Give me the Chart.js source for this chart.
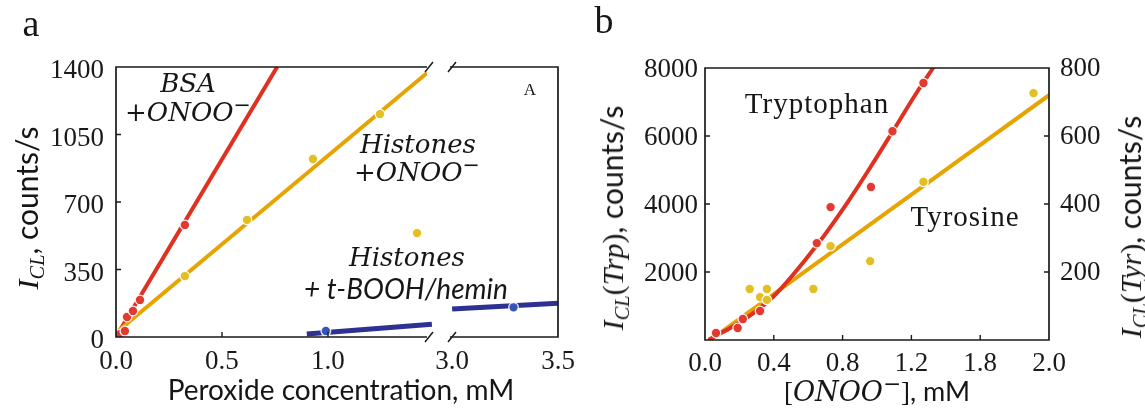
<!DOCTYPE html>
<html>
<head>
<meta charset="utf-8">
<title>Chemiluminescence intensity vs. oxidant concentration</title>
<script src="https://cdn.jsdelivr.net/npm/chart.js@4.4.1/dist/chart.umd.min.js"></script>
<style>
  html, body { margin: 0; padding: 0; background: #fff; }
  #fig { position: relative; width: 1145px; height: 408px; overflow: hidden; background: #fff; }
  #fig canvas { position: absolute; top: 0; }
  .lbl { position: absolute; white-space: nowrap; color: #161616; line-height: 1; transform: translate(-50%, -50%); }
  .rot { transform: translate(-50%, -50%) rotate(-90deg); }
  .serif { font-family: "Liberation Serif", serif; }
  .mi { font-family: "DejaVu Serif", serif; font-style: italic; }
  .li { font-family: "Liberation Serif", serif; font-style: italic; }
  .sans { font-family: "Lato", sans-serif; }
  .sansi { font-family: "Lato", sans-serif; font-style: italic; }
  sup.m { font-size: 0.8em; vertical-align: 0.45em; line-height: 0; }
  sub.s { font-size: 0.68em; vertical-align: -0.28em; line-height: 0; }
</style>
</head>
<body>
<div id="fig">
  <canvas id="a1" width="440" height="408" style="left:0px"></canvas>
  <canvas id="a2" width="180" height="408" style="left:420px"></canvas>
  <canvas id="b" width="555" height="408" style="left:590px"></canvas>

  <div class="lbl serif" style="left:31px;top:23px;font-size:38px">a</div>
  <div class="lbl serif" style="left:604px;top:20px;font-size:38px">b</div>

  <div class="lbl mi" style="left:188px;top:83px;font-size:26px">BSA</div>
  <div class="lbl mi" style="left:188px;top:112px;font-size:26px">+ONOO<sup class="m">−</sup></div>
  <div class="lbl mi" style="left:418px;top:144px;font-size:26px">Histones</div>
  <div class="lbl mi" style="left:417px;top:172px;font-size:26px">+ONOO<sup class="m">−</sup></div>
  <div class="lbl mi" style="left:407px;top:257px;font-size:26px">Histones</div>
  <div class="lbl sansi" style="left:406px;top:288px;font-size:28px">+ t-BOOH/hemin</div>
  <div class="lbl serif" style="left:530px;top:89px;font-size:17px">A</div>

  <div class="lbl serif" style="left:817px;top:103px;font-size:29px;letter-spacing:1px">Tryptophan</div>
  <div class="lbl serif" style="left:965px;top:216px;font-size:29px;letter-spacing:1px">Tyrosine</div>

  <div class="lbl rot" style="left:27px;top:208px;font-size:30px"><span class="li">I</span><sub class="s li">CL</sub><span class="sans">, counts/s</span></div>
  <div class="lbl sans" style="left:341px;top:389px;font-size:28px">Peroxide concentration, mM</div>

  <div class="lbl rot" style="left:612px;top:218px;font-size:30px"><span class="li">I</span><sub class="s li">CL</sub><span class="serif">(</span><span class="li">Trp</span><span class="serif">)</span><span class="sans">, counts/s</span></div>
  <div class="lbl rot" style="left:1130px;top:227px;font-size:30px"><span class="li">I</span><sub class="s li">CL</sub><span class="serif">(</span><span class="li">Tyr</span><span class="serif">)</span><span class="sans">, counts/s</span></div>
  <div class="lbl" style="left:877px;top:391px;font-size:27px"><span class="serif">[</span><span class="mi">ONOO<sup class="m">−</sup></span><span class="serif">]</span><span class="sans">, mM</span></div>
</div>

<script>
// ---- Panel a: CL intensity vs. peroxide concentration (mM) ----
const bsaX = [0.019, 0.042, 0.052, 0.080, 0.113, 0.325];
const bsaY = [16, 31, 104, 135, 192, 581];
const bsaFitX = [0, 0.76];
const bsaFitY = [0, 1400];

const histX = [0.325, 0.618, 0.929, 1.245, 1.42];
const histY = [316, 607, 923, 1156, 539];
const histFitX = [0.01, 1.467];
const histFitY = [31, 1369];

const heminX = [0.99, 3.29];
const heminY = [31, 154];
const heminFitLowX = [0.90, 1.49];
const heminFitLowY = [16, 66];
const heminFitHighX = [3.0, 3.5];
const heminFitHighY = [145, 175];

const aYTicks = [0, 350, 700, 1050, 1400];
const aYLabels = ['0', '350', '700', '1050', '1400'];
const aXTicksLow = [0, 0.5, 1.0];
const aXLabelsLow = ['0.0', '0.5', '1.0'];
const aXTicksHigh = [3.0, 3.5];
const aXLabelsHigh = ['3.0', '3.5'];

// ---- Panel b: CL intensity vs. [ONOO-] (mM) ----
const trpX = [0.064, 0.19, 0.22, 0.32, 0.65, 0.73, 0.965, 1.09, 1.27];
const trpY = [206, 353, 617, 853, 2850, 3910, 4500, 6140, 7560];
const trpFitX = [0.029, 0.215, 0.395, 0.651, 0.826, 0.959, 1.093, 1.233, 1.326];
const trpFitY = [29, 559, 1265, 2794, 4029, 5059, 6147, 7294, 8000];

const tyrX = [0.26, 0.32, 0.36, 0.36, 0.63, 0.73, 0.96, 1.27, 1.91];
const tyrY = [150, 126, 150, 118, 150, 276, 232, 465, 726];
const tyrFitX = [0.03, 2.0];
const tyrFitY = [0, 720];

const bXTicks = [0, 0.4, 0.8, 1.2, 1.6, 2.0];
const bXLabels = ['0.0', '0.4', '0.8', '1.2', '1.8', '2.0'];
const bLeftTicks = [2000, 4000, 6000, 8000];
const bLeftLabels = ['2000', '4000', '6000', '8000'];
const bRightTicks = [200, 400, 600, 800];
const bRightLabels = ['200', '400', '600', '800'];

// ---- styling ----
const RED = '#e0301f';
const RED_PT = '#e23a30';
const ORANGE = '#e7a300';
const YELLOW_PT = '#e2bf22';
const NAVY = '#2c3192';
const BLUE_PT = '#3556b8';
const INK = '#1a1a1a';
const tickFont = { family: '"Liberation Serif", serif', size: 27 };

const xy = (xs, ys) => xs.map((x, i) => ({ x, y: ys[i] }));

function pointSet(xs, ys, color, axis) {
  return Object.assign({
    data: xy(xs, ys), showLine: false, order: 0,
    pointRadius: 4.8, pointHoverRadius: 4.8,
    pointBackgroundColor: color, pointBorderColor: 'rgba(255,255,255,0.9)', pointBorderWidth: 1.3
  }, axis || {});
}
function lineSet(xs, ys, color, width, extra) {
  return Object.assign({
    data: xy(xs, ys), borderColor: color, borderWidth: width, pointRadius: 0,
    fill: false, order: 1, borderCapStyle: 'butt'
  }, extra || {});
}

// fixed box size so the plot frames line up across the canvases
function fixBox(prop, size) {
  return s => {
    s[prop] = size;
    s.paddingLeft = 0; s.paddingRight = 0; s.paddingTop = 0; s.paddingBottom = 0;
  };
}
const useTicks = vals => s => { s.ticks = vals.map(v => ({ value: v })); };

// frame, inward tick marks and axis-break marks
const framePlugin = {
  id: 'frame',
  afterDatasetsDraw(chart, args, o) {
    const { ctx, chartArea: a } = chart;
    ctx.save();
    ctx.strokeStyle = INK;
    ctx.lineWidth = 1.7;
    ctx.lineCap = 'butt';
    ctx.beginPath();
    const sides = o.sides || [];
    if (sides.includes('top')) { ctx.moveTo(a.left, a.top); ctx.lineTo(a.right, a.top); }
    if (sides.includes('bottom')) { ctx.moveTo(a.left, a.bottom); ctx.lineTo(a.right, a.bottom); }
    if (sides.includes('left')) { ctx.moveTo(a.left, a.top - 0.85); ctx.lineTo(a.left, a.bottom + 0.85); }
    if (sides.includes('right')) { ctx.moveTo(a.right, a.top - 0.85); ctx.lineTo(a.right, a.bottom + 0.85); }
    ctx.stroke();

    ctx.lineWidth = 1.4;
    ctx.beginPath();
    (o.ticks || []).forEach(t => {
      const sc = chart.scales[t.id];
      sc.ticks.forEach(tk => {
        const p = sc.getPixelForValue(tk.value);
        if (t.side === 'bottom') { if (p <= a.left + 2 || p >= a.right - 2) return; ctx.moveTo(p, a.bottom); ctx.lineTo(p, a.bottom - 5); }
        if (t.side === 'left') { if (p <= a.top + 2 || p >= a.bottom - 2) return; ctx.moveTo(a.left, p); ctx.lineTo(a.left + 5, p); }
        if (t.side === 'right') { if (p <= a.top + 2 || p >= a.bottom - 2) return; ctx.moveTo(a.right, p); ctx.lineTo(a.right - 5, p); }
      });
    });
    ctx.stroke();

    if (o.breakAt) {
      const x = o.breakAt === 'right' ? a.right + 2 : a.left + 2;
      ctx.lineWidth = 1.5;
      ctx.beginPath();
      [a.top, a.bottom].forEach(y => { ctx.moveTo(x - 4, y + 5); ctx.lineTo(x + 4, y - 5); });
      ctx.stroke();
    }
    ctx.restore();
  }
};

const common = {
  responsive: false, animation: false, events: [],
  plugins: { legend: { display: false }, tooltip: { enabled: false } }
};

function xAxis(min, max, vals, labels, pad) {
  return {
    type: 'linear', min, max,
    afterBuildTicks: useTicks(vals),
    afterFit: fixBox('height', 40),
    grid: { display: false, drawTicks: false },
    border: { display: false },
    ticks: { font: tickFont, color: INK, padding: pad, maxRotation: 0, autoSkip: false,
             callback: (v, i) => labels[i] }
  };
}
function yAxis(pos, min, max, vals, labels, width, pad, shift) {
  return {
    type: 'linear', position: pos, min, max,
    afterBuildTicks: useTicks(vals),
    afterFit: fixBox('width', width),
    grid: { display: false, drawTicks: false },
    border: { display: false },
    ticks: { font: tickFont, color: INK, padding: pad, labelOffset: shift, autoSkip: false,
             callback: (v, i) => labels[i] }
  };
}

// panel a, low-concentration segment
new Chart(document.getElementById('a1'), {
  type: 'line',
  data: { datasets: [
    pointSet(bsaX, bsaY, RED_PT),
    pointSet(histX, histY, YELLOW_PT),
    pointSet(heminX.slice(0, 1), heminY.slice(0, 1), BLUE_PT),
    lineSet(heminFitLowX, heminFitLowY, NAVY, 5, { clip: { left: 0, top: 0, right: 8, bottom: 0 } }),
    lineSet(histFitX, histFitY, ORANGE, 4),
    lineSet(bsaFitX, bsaFitY, RED, 4)
  ] },
  options: Object.assign({}, common, {
    layout: { padding: { left: 0, right: 13, top: 67, bottom: 31 } },
    scales: {
      x: xAxis(0, 1.467, aXTicksLow, aXLabelsLow, 9),
      y: yAxis('left', 0, 1400, aYTicks, aYLabels, 116, 12, 4)
    },
    plugins: Object.assign({}, common.plugins, {
      frame: { sides: ['left', 'top', 'bottom'], ticks: [{ id: 'x', side: 'bottom' }, { id: 'y', side: 'left' }], breakAt: 'right' }
    })
  }),
  plugins: [framePlugin]
});

// panel a, high-concentration segment (after the axis break)
new Chart(document.getElementById('a2'), {
  type: 'line',
  data: { datasets: [
    pointSet(heminX.slice(1), heminY.slice(1), BLUE_PT),
    lineSet(heminFitHighX, heminFitHighY, NAVY, 5)
  ] },
  options: Object.assign({}, common, {
    layout: { padding: { left: 30, right: 42, top: 67, bottom: 31 } },
    scales: {
      x: xAxis(2.99, 3.5, aXTicksHigh, aXLabelsHigh, 9),
      y: { type: 'linear', min: 0, max: 1400, display: false }
    },
    plugins: Object.assign({}, common.plugins, {
      frame: { sides: ['right', 'top', 'bottom'], ticks: [], breakAt: 'left' }
    })
  }),
  plugins: [framePlugin]
});

// panel b, tryptophan (left axis) and tyrosine (right axis)
new Chart(document.getElementById('b'), {
  type: 'line',
  data: { datasets: [
    pointSet(trpX, trpY, RED_PT, { yAxisID: 'y' }),
    pointSet(tyrX, tyrY, YELLOW_PT, { yAxisID: 'y2' }),
    lineSet(trpFitX, trpFitY, RED, 4, { yAxisID: 'y', cubicInterpolationMode: 'monotone', borderCapStyle: 'round' }),
    lineSet(tyrFitX, tyrFitY, ORANGE, 4, { yAxisID: 'y2' })
  ] },
  options: Object.assign({}, common, {
    layout: { padding: { left: 0, right: 0, top: 68, bottom: 28 } },
    scales: {
      x: xAxis(0, 2.0, bXTicks, bXLabels, 8),
      y: yAxis('left', 0, 8000, bLeftTicks, bLeftLabels, 115, 7, 2),
      y2: yAxis('right', 0, 800, bRightTicks, bRightLabels, 96, 11, 1)
    },
    plugins: Object.assign({}, common.plugins, {
      frame: { sides: ['left', 'right', 'top', 'bottom'],
               ticks: [{ id: 'x', side: 'bottom' }, { id: 'y', side: 'left' }, { id: 'y2', side: 'right' }] }
    })
  }),
  plugins: [framePlugin]
});
</script>
</body>
</html>
